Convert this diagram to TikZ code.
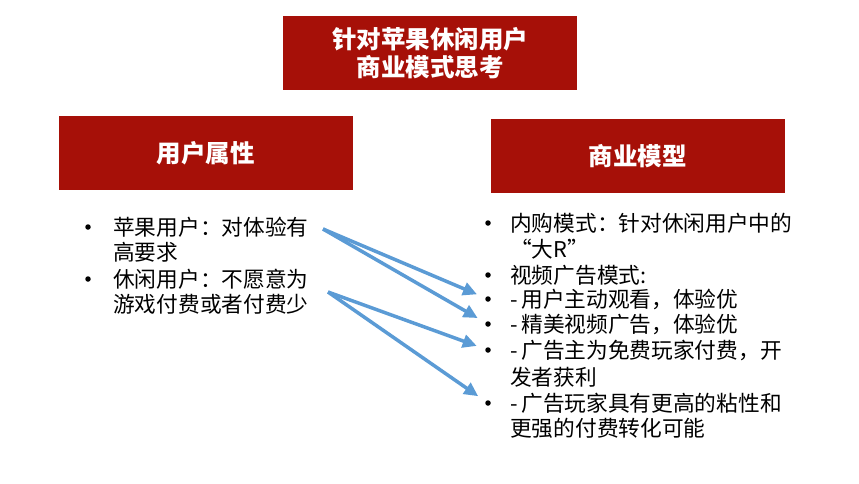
\documentclass[tikz,border=0pt]{standalone}
\usepackage{fontspec}
\setmainfont{Noto Sans CJK SC}
\usepackage{xcolor}
\usetikzlibrary{arrows.meta,positioning}
\definecolor{boxred}{RGB}{166,16,8}
\definecolor{arrowblue}{RGB}{91,155,213}

\begin{document}
\begin{tikzpicture}[
    x=1pt, y=-1pt,
    header/.style={rectangle, fill=boxred, text=white, minimum width=294pt, minimum height=74pt, align=center, font=\fontsize{24.5}{28}\selectfont\bfseries},
    txt/.style={anchor=west, inner sep=0pt, font=\fontsize{21.7}{25}\selectfont},
    dot/.style={circle, fill=black, inner sep=0pt, minimum size=5.5pt},
    arrow/.style={-{Triangle[length=14pt,width=13pt]}, line width=3.5pt, draw=arrowblue, shorten >=9pt}
]
    \useasboundingbox (0,0) rectangle (859,483);

    % Headers
    \node[header] (title) at (430,53) {针对苹果休闲用户\\商业模式思考};
    \node[header] (user) at (205.5,153) {用户属性};
    \node[header] (model) at (637.5,156) {商业模型};

    % User attributes
    \node[dot] (ub1) at (88,227) {};
    \node[txt] (u1) at (113,227) {苹果用户：对体验有};
    \node[txt] (u2) at (113,252) {高要求};
    \node[dot] (ub2) at (88,279) {};
    \node[txt] (u3) at (113,279) {休闲用户：不愿意为};
    \node[txt] (u4) at (113,304) {游戏付费或者付费少};

    % Business models
    \node[dot] (mb1) at (488,223) {};
    \node[txt] (m1) at (510,223) {内购模式：针对休闲用户中的};
    \node[txt] (m2) at (510,249) {“大R”};
    \node[dot] (mb2) at (488,275) {};
    \node[txt] (m3) at (510,275) {视频广告模式:};
    \node[dot] (mb3) at (488,299) {};
    \node[txt] (m4) at (510,299) {-\,用户主动观看，体验优};
    \node[dot] (mb4) at (488,324) {};
    \node[txt] (m5) at (510,324) {-\,精美视频广告，体验优};
    \node[dot] (mb5) at (488,350) {};
    \node[txt] (m6) at (510,350) {-\,广告主为免费玩家付费，开};
    \node[txt] (m7) at (510,377) {发者获利};
    \node[dot] (mb6) at (488,403) {};
    \node[txt] (m8) at (510,403) {-\,广告玩家具有更高的粘性和};
    \node[txt] (m9) at (510,428) {更强的付费转化可能};

    % Arrows
    \coordinate (apple) at (323,229);
    \coordinate (casual) at (328,292);
    \draw[arrow] (apple) -- (mb3);
    \draw[arrow] (apple) -- (mb4);
    \draw[arrow] (casual) -- (mb5);
    \draw[arrow] (casual) -- (mb6);
\end{tikzpicture}
\end{document}
